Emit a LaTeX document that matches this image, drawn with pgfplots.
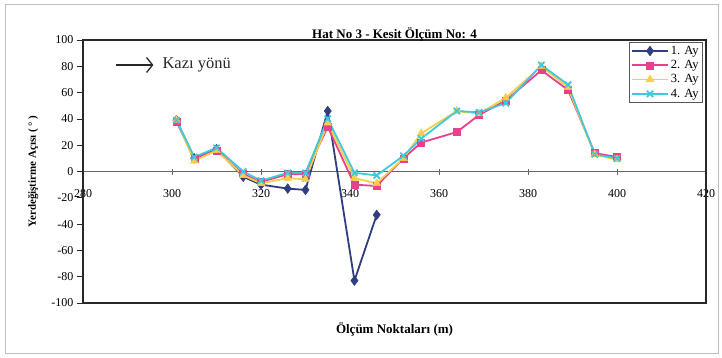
\documentclass[border=0pt]{standalone}
\usepackage{fontspec}
\setmainfont{Liberation Serif}
\usepackage{pgfplots}
\pgfplotsset{compat=1.18}
\usetikzlibrary{arrows.meta}
\definecolor{c1}{RGB}{48,62,128}
\definecolor{c2}{RGB}{232,64,140}
\definecolor{c3}{RGB}{246,206,72}
\definecolor{c4}{RGB}{64,200,222}
\definecolor{framec}{RGB}{40,40,40}
\begin{document}
\begin{tikzpicture}
\path[use as bounding box] (0pt,0pt) rectangle (722pt,357pt);
\draw[gray!50, line width=0.6pt] (5pt,4pt) rectangle (718pt,353pt);
\begin{axis}[
  at={(83pt,54pt)}, anchor=south west,
  width=623pt, height=263pt, scale only axis,
  xmin=280, xmax=420, ymin=-100, ymax=100,
  axis x line=middle, axis y line=left,
  hide obscured x ticks=false,
  x axis line style={-, gray!80!black, line width=0.6pt},
  y axis line style={-, framec, line width=1.2pt},
  xtick={280,300,...,420}, ytick={-100,-80,...,100},
  x tick style={gray!80!black, line width=0.6pt},
  y tick style={framec, line width=0.8pt},
  xtick align=center, ytick align=outside,
  major tick length=6pt,
  xticklabel style={yshift=-11pt, font=\fontsize{12}{12}\selectfont},
  yticklabel style={font=\fontsize{12}{12}\selectfont},
  /pgf/number format/assume math mode=true,
  scaled ticks=false,
  title={\textbf{Hat No 3 - Kesit Ölçüm No: 4}},
  title style={at={(axis description cs:0.5,1)}, anchor=south, yshift=-11pt, font=\fontsize{13}{14}\selectfont},
  xlabel={\textbf{Ölçüm Noktaları (m)}},
  xlabel style={at={(axis description cs:0.5,0)}, anchor=north, yshift=-16pt, font=\fontsize{13}{14}\selectfont},
  ylabel={\textbf{Yerdeğiştirme Açısı ( ° )}},
  ylabel style={at={(axis description cs:-0.066,0.5)}, anchor=south, font=\fontsize{11}{12}\selectfont},
  legend style={at={(axis description cs:0.995,0.993)}, anchor=north east,
    draw=gray!70!black, line width=0.6pt, font=\fontsize{12.5}{13}\selectfont,
    inner sep=2pt, row sep=0.5pt, fill=white},
  legend cell align=left,
  legend image code/.code={\draw[mark repeat=2,mark phase=2] plot coordinates {(0pt,0pt) (18pt,0pt) (36pt,0pt)};},
  clip=false,
  every axis plot/.append style={line width=1.8pt},
]
\addplot[c1, mark=diamond*, mark size=4.8pt, mark options={solid, line width=0.5pt}] coordinates {
 (301,39) (305,10) (310,17) (316,-4) (320,-10) (326,-13) (330,-14) (335,46) (341,-83) (346,-33)};
\addlegendentry{1. Ay}
\addplot[c2, mark=square*, mark size=3.5pt, mark options={solid, line width=0.5pt}] coordinates {
 (301,38) (305,10) (310,16) (316,-2) (320,-8) (326,-2) (330,-2) (335,34) (341,-10) (346,-11)
 (352,10) (356,22) (364,30) (369,43) (375,54) (383,77) (389,62) (395,14) (400,11)};
\addlegendentry{2. Ay}
\addplot[c3, mark=triangle*, mark size=4.5pt, mark options={solid, line width=0.5pt}] coordinates {
 (301,39) (305,8) (310,16) (316,-3) (320,-9) (326,-5) (330,-6) (335,37) (341,-5) (346,-9)
 (352,10) (356,29) (364,46) (369,44) (375,56) (383,80) (389,64) (395,13) (400,9)};
\addlegendentry{3. Ay}
\addplot[c4, mark=x, mark size=4.4pt, mark options={solid, line width=1.8pt}] coordinates {
 (301,39) (305,11) (310,18) (316,0) (320,-7) (326,-1) (330,-1) (335,40) (341,-1) (346,-3)
 (352,12) (356,25) (364,46) (369,45) (375,52) (383,81) (389,66) (395,13) (400,10)};
\addlegendentry{4. Ay}
\draw[framec, line width=1.2pt] (rel axis cs:0,0) rectangle (rel axis cs:1,1);
\draw[-{Straight Barb[length=6pt,width=15pt]}, line width=1.3pt, framec] (axis description cs:0.053,0.905) -- (axis description cs:0.113,0.905);
\node[anchor=west, font=\fontsize{16.5}{17}\selectfont, text=framec] at (axis description cs:0.122,0.905) {Kazı yönü};
\end{axis}
\end{tikzpicture}
\end{document}
